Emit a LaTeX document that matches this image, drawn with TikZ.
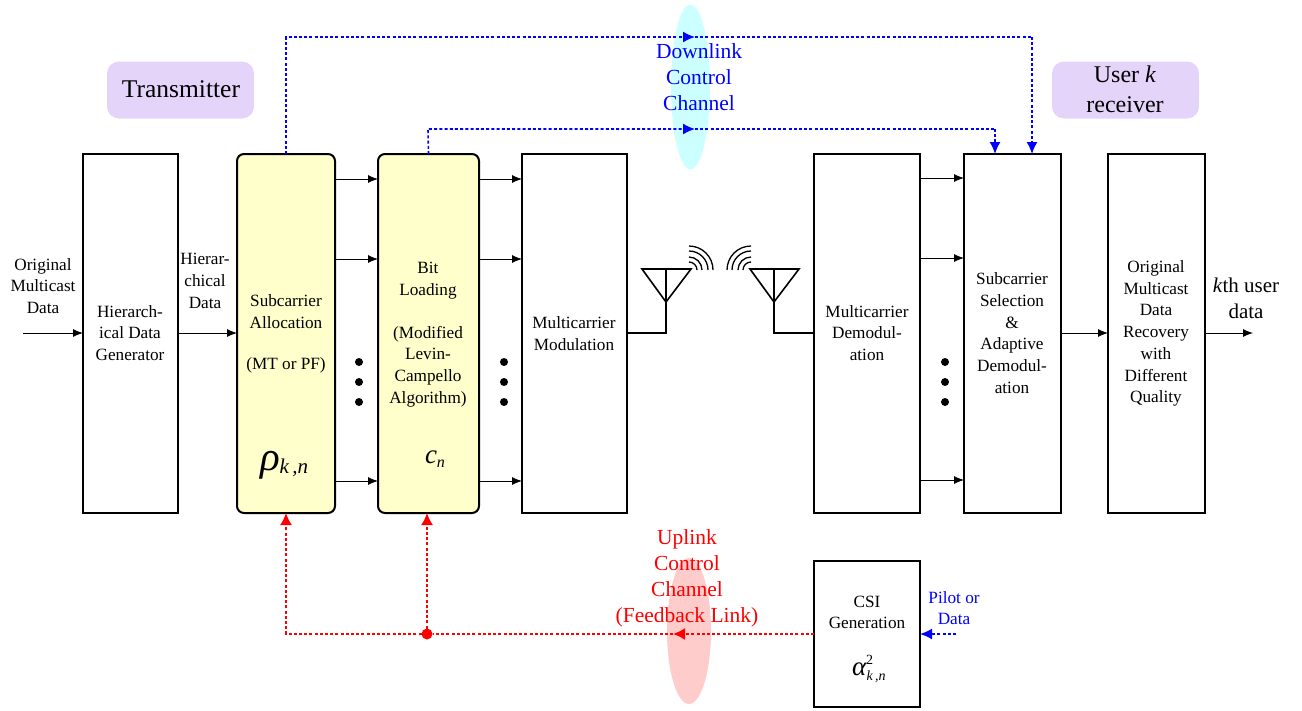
\documentclass[tikz,border=0pt]{standalone}
\usepackage{fontspec}
\setmainfont{Liberation Serif}
\usetikzlibrary{arrows.meta,calc,shapes.geometric}
\definecolor{paleyellow}{RGB}{255,255,204}
\definecolor{lilac}{RGB}{229,212,250}
\definecolor{palecyan}{RGB}{204,255,255}
\definecolor{palered}{RGB}{255,204,204}
\tikzset{
 x=1pt,y=-1pt,
 every node/.style={outer sep=0pt,inner sep=0pt},
 block/.style={draw,line width=1.6pt,rectangle,fill=white},
 yblock/.style={draw,line width=2pt,rectangle,rounded corners=7pt,fill=paleyellow},
 tag/.style={rectangle,rounded corners=12pt,fill=lilac},
 txt/.style={align=center,font=\fontsize{17.2}{21.7}\selectfont},
 big/.style={align=center,font=\fontsize{21.5}{26}\selectfont},
 flow/.style={line width=0.8pt,-{Latex[length=10pt,width=8pt]}},
 bline/.style={blue,line width=1.6pt,dash pattern=on 3pt off 2.2pt},
 rline/.style={red,line width=1.6pt,dash pattern=on 3pt off 2.2pt},
 bdash/.style={bline,-{Latex[length=12pt,width=11pt]}},
 rdash/.style={rline,-{Latex[length=12pt,width=12pt]}},
 ant/.style={line width=1.6pt,line join=miter},
 wave/.style={line width=1.3pt},
 dotb/.style={circle,fill=black,minimum size=8pt},
}
\begin{document}
\begin{tikzpicture}
\useasboundingbox (0,0) rectangle (1302,710);
% ellipses
\node[ellipse,fill=palecyan,minimum width=39pt,minimum height=165pt] (ec) at (690.5,87) {};
\node[ellipse,fill=palered,minimum width=44pt,minimum height=146pt] (er) at (689,631) {};
% tags
\node[tag,minimum width=147pt,minimum height=57pt] (ttx) at (180.5,90) {};
\node[font=\fontsize{25.5}{28}\selectfont] (ttxt) at (181,89.5) {Transmitter};
\node[tag,minimum width=147pt,minimum height=57pt] (trx) at (1125.5,90) {};
\node[align=center,font=\fontsize{24}{30}\selectfont] (trxt) at (1125,89) {User \textit{k}\\receiver};
% blocks
\node[block,minimum width=95pt,minimum height=359pt] (gen) at (130.5,333.5) {};
\node[yblock,minimum width=98pt,minimum height=359pt] (sa) at (286,333.5) {};
\node[yblock,minimum width=101pt,minimum height=359pt] (bl) at (428.5,333.5) {};
\node[block,minimum width=105pt,minimum height=359pt] (mod) at (574.5,333.5) {};
\node[block,minimum width=106pt,minimum height=359pt] (dem) at (867,333.5) {};
\node[block,minimum width=97pt,minimum height=359pt] (sel) at (1012.5,333.5) {};
\node[block,minimum width=97pt,minimum height=359pt] (rec) at (1156.5,333.5) {};
\node[block,minimum width=106pt,minimum height=146pt] (csi) at (867,634) {};
% block texts
\node[txt] (t1) at (43,286) {Original\\Multicast\\Data};
\node[txt] (t2) at (130,333) {Hierarch-\\ical Data\\Generator};
\node[txt] (t3) at (205,281) {Hierar-\\chical\\Data};
\node[txt] (t4) at (286,311.5) {Subcarrier\\Allocation};
\node[txt] (t5) at (286,365) {(MT or PF)};
\node[txt] (t6) at (428,280.5) {Bit\\Loading};
\node[txt] (t7) at (428,366.5) {(Modified\\Levin-\\Campello\\Algorithm)};
\node[txt] (t8) at (574,333.5) {Multicarrier\\Modulation};
\node[txt] (t9) at (867,333) {Multicarrier\\Demodul-\\ation};
\node[txt] (t10) at (1012,333) {Subcarrier\\Selection\\\&\\Adaptive\\Demodul-\\ation};
\node[txt] (t11) at (1156,333.5) {Original\\Multicast\\Data\\Recovery\\with\\Different\\Quality};
\node[align=center,font=\fontsize{21}{26}\selectfont] (t12) at (1246,298.5) {\textit{k}th user\\data};
\node[txt] (t13) at (867,612.5) {CSI\\Generation};
\node[txt,blue] (t14) at (954,608) {Pilot or\\Data};
\node[anchor=base west] (rho) at (260,470) {\fontsize{41}{41}\selectfont\itshape ρ\raisebox{-3pt}{\fontsize{21}{21}\selectfont k\,,n}};
\node[anchor=base west] (cn) at (425,463) {\fontsize{27}{27}\selectfont\itshape c\raisebox{-4pt}{\fontsize{16}{16}\selectfont n}};
\node[anchor=base west] (alpha) at (852,675) {\fontsize{27}{27}\selectfont\itshape α\rlap{\raisebox{11pt}{\fontsize{14}{14}\selectfont\upshape 2}}\hspace{0.5pt}\raisebox{-5pt}{\fontsize{14}{14}\selectfont k\,,n}};
% dots
\foreach \x/\s in {359/a,504/b,945/c}{
 \node[dotb] (d1\s) at (\x,362) {};
 \node[dotb] (d2\s) at (\x,382) {};
 \node[dotb] (d3\s) at (\x,402) {};
}
% flows
\coordinate (inA) at (23,333);
\coordinate (outA) at (1253,333);
\draw[flow] (inA) -- (gen.west |- inA);
\draw[flow] (gen.east |- inA) -- (sa.west |- inA);
\foreach \y in {179,259,481}{
 \draw[flow] (sa.east |- 0,\y) -- (bl.west |- 0,\y);
 \draw[flow] (bl.east |- 0,\y) -- (mod.west |- 0,\y);
 \draw[flow] (dem.east |- 0,\y-1) -- (sel.west |- 0,\y-1);
}
\draw[flow] (sel.east |- inA) -- (rec.west |- inA);
\draw[flow] (rec.east |- inA) -- (outA);
% antennas
\coordinate (atx) at (666,302);
\coordinate (arx) at (774,302);
\draw[ant] (mod.east |- 0,333) -| (atx);
\draw[ant] (atx) -- (642,269) -- (691,269) -- cycle;
\draw[ant] (666,269) -- (atx);
\draw[ant] (dem.west |- 0,333) -| (arx);
\draw[ant] (arx) -- (750,269) -- (799,269) -- cycle;
\draw[ant] (774,269) -- (arx);
\foreach \r in {8,13,19,24}{
 \draw[wave] (689,270-\r) arc[start angle=-90,end angle=0,radius=\r];
 \draw[wave] (751,270-\r) arc[start angle=-90,end angle=-180,radius=\r];
}
% control links
\coordinate (top1) at (286,37);
\coordinate (top2) at (428,129);
\coordinate (m1) at (695,37);
\coordinate (m2) at (695,129);
\coordinate (c1) at (1032,37);
\coordinate (c2) at (995,129);
\draw[bdash] (sa.north) -- (top1) -- (m1);
\draw[bline] (m1) -- (c1);
\draw[bdash] (c1) -- (sel.north -| c1);
\draw[bdash] (bl.north) -- (top2) -- (m2);
\draw[bline] (m2) -- (c2);
\draw[bdash] (c2) -- (sel.north -| c2);
\node[big,blue] (dl) at (699,77) {Downlink\\Control\\Channel};
% uplink
\coordinate (fbc) at (286,634);
\node[circle,fill=red,minimum size=11pt] (junc) at (427,634) {};
\coordinate (mr) at (673,634);
\draw[rdash] (csi.west |- mr) -- (mr);
\draw[rline] (mr) -- (junc);
\draw[rdash] (junc) -- (fbc) -- (sa.south);
\draw[rdash] (junc) -- (bl.south -| junc);
\node[big,red] (ul) at (687,578) {Uplink\\Control\\Channel\\(Feedback Link)};
\coordinate (pd) at (956,634);
\draw[bdash] (pd) -- (csi.east |- pd);
\end{tikzpicture}
\end{document}
